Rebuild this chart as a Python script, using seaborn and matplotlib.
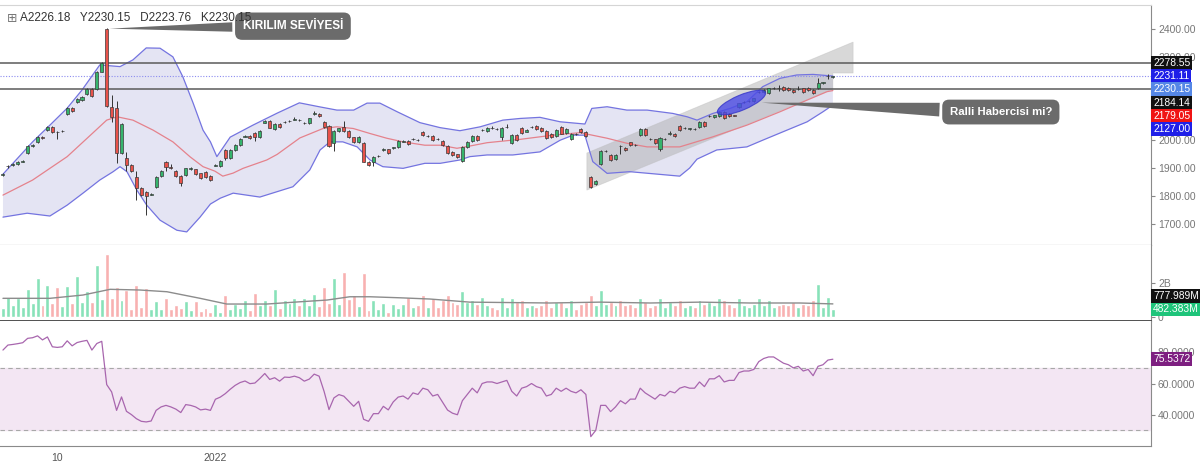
import matplotlib
matplotlib.use("Agg")
import matplotlib.pyplot as plt
import matplotlib.transforms as mtransforms
from matplotlib.patches import Polygon, Ellipse
import numpy as np
import seaborn as sns

# ---- candles (index = bar number) ----
opens = [
    1877, 1907, 1912, 1915, 1924, 1954, 1981, 1995, 2013, 2037,
    2049, 2031, 2033, 2095, 2117, 2137, 2145, 2167, 2184, 2184,
    2247, 2399, 2121, 2115, 1954, 1936, 1912, 1870, 1830, 1816,
    1806, 1834, 1872, 1922, 1904, 1891, 1872, 1876, 1899, 1896,
    1882, 1886, 1872, 1910, 1908, 1965, 1936, 1965, 1983, 2014,
    2016, 2027, 2013, 2064, 2070, 2041, 2058, 2066, 2069, 2075,
    2073, 2062, 2061, 2096, 2095, 2067, 2052, 1990, 2034, 2049,
    2034, 2011, 1994, 1992, 1924, 1924, 1944, 1967, 1968, 1974,
    1977, 1996, 1997, 2004, 2001, 2031, 2015, 2016, 2006, 1998,
    1980, 1959, 1950, 1927, 1975, 1999, 2017, 2036, 2035, 2045,
    2041, 2011, 2048, 1990, 2019, 2046, 2032, 2048, 2052, 2045,
    2034, 2023, 2016, 2049, 2027, 2004, 2023, 2042, 2030, 1870,
    1843, 1915, 1962, 1948, 1933, 1981, 1972, 1993, 1983, 2019,
    2040, 2005, 2004, 1968, 2004, 2024, 2025, 2052, 2044, 2042,
    2041, 2049, 2067, 2087, 2085, 2088, 2101, 2094, 2090, 2121,
    2138, 2141, 2142, 2174, 2173, 2171, 2188, 2189, 2191, 2189,
    2181, 2185, 2187, 2189, 2182, 2187, 2207, 2230, 2226.18,
]
highs = [
    1884, 1913, 1918, 1926, 1930, 1984, 1988, 2016, 2016, 2052,
    2052, 2034, 2038, 2120, 2120, 2152, 2160, 2187, 2187, 2250,
    2283, 2402, 2163, 2140, 2062, 1958, 1915, 1890, 1833, 1820,
    1812, 1873, 1894, 1925, 1915, 1894, 1875, 1903, 1906, 1899,
    1885, 1889, 1875, 1915, 1929, 1970, 1968, 1986, 2008, 2019,
    2019, 2030, 2038, 2073, 2073, 2062, 2061, 2070, 2073, 2085,
    2076, 2066, 2082, 2104, 2098, 2070, 2055, 2037, 2046, 2070,
    2037, 2014, 2016, 1995, 1927, 1945, 1949, 1972, 1971, 1978,
    2001, 2000, 2000, 2008, 2004, 2034, 2019, 2019, 2009, 2001,
    1983, 1962, 1953, 1980, 1998, 2020, 2020, 2040, 2049, 2052,
    2044, 2049, 2058, 2022, 2022, 2049, 2041, 2052, 2055, 2048,
    2037, 2026, 2040, 2052, 2043, 2028, 2026, 2045, 2033, 1873,
    1857, 1966, 1966, 1951, 1951, 1984, 1975, 1996, 1986, 2043,
    2043, 2009, 2007, 2011, 2008, 2035, 2028, 2055, 2048, 2046,
    2044, 2070, 2070, 2091, 2093, 2106, 2104, 2097, 2093, 2136,
    2142, 2145, 2154, 2178, 2183, 2190, 2192, 2200, 2194, 2192,
    2184, 2194, 2190, 2192, 2185, 2225, 2211, 2238, 2230.15,
]
lows = [
    1872, 1903, 1909, 1913, 1921, 1950, 1978, 1992, 2006, 2034,
    2028, 2004, 2031, 2092, 2102, 2134, 2142, 2164, 2157, 2180,
    2244, 2120, 2068, 1919, 1950, 1890, 1887, 1786, 1800, 1732,
    1803, 1831, 1869, 1890, 1899, 1869, 1835, 1873, 1895, 1876,
    1861, 1865, 1854, 1907, 1905, 1930, 1933, 1962, 1980, 2011,
    2007, 1997, 2010, 2061, 2043, 2038, 2046, 2063, 2066, 2072,
    2069, 2059, 2058, 2093, 2085, 2046, 1977, 1963, 2031, 2031,
    2010, 1991, 1991, 1921, 1909, 1910, 1941, 1964, 1951, 1971,
    1974, 1993, 1983, 2001, 1997, 2016, 2012, 1999, 2002, 1980,
    1953, 1944, 1938, 1924, 1972, 1996, 1999, 2033, 2032, 2041,
    2037, 2000, 2045, 1987, 1999, 2025, 2029, 2045, 2039, 2032,
    2005, 2008, 2013, 2022, 2024, 2001, 2019, 2027, 2013, 1828,
    1840, 1912, 1959, 1927, 1930, 1950, 1963, 1979, 1979, 2016,
    2016, 2001, 1987, 1962, 2001, 2021, 2012, 2034, 2041, 2039,
    2037, 2046, 2049, 2084, 2082, 2085, 2078, 2083, 2086, 2118,
    2135, 2138, 2139, 2171, 2170, 2168, 2185, 2178, 2179, 2177,
    2170, 2182, 2172, 2177, 2168, 2184, 2204, 2222, 2223.76,
]
closes = [
    1880, 1909, 1914, 1923, 1926, 1981, 1983, 2013, 2010, 2049,
    2031, 2029, 2035, 2117, 2105, 2149, 2157, 2184, 2160, 2247,
    2279, 2123, 2085, 1954, 2058, 1912, 1891, 1830, 1804, 1800,
    1808, 1870, 1891, 1906, 1902, 1872, 1846, 1900, 1901, 1879,
    1864, 1868, 1858, 1912, 1926, 1936, 1965, 1983, 2005, 2016,
    2010, 2013, 2035, 2070, 2046, 2059, 2049, 2067, 2070, 2076,
    2072, 2063, 2079, 2097, 2088, 2049, 1980, 2034, 2043, 2034,
    2013, 1994, 2013, 1924, 1912, 1942, 1945, 1968, 1954, 1975,
    1998, 1997, 1986, 2005, 2000, 2019, 2016, 2002, 2005, 1983,
    1956, 1947, 1941, 1977, 1995, 2017, 2002, 2037, 2046, 2044,
    2040, 2046, 2049, 2019, 2002, 2028, 2038, 2049, 2042, 2035,
    2008, 2011, 2037, 2025, 2040, 2025, 2022, 2030, 2016, 1834,
    1854, 1963, 1963, 1930, 1948, 1979, 1966, 1982, 1982, 2040,
    2019, 2004, 1990, 2008, 2005, 2025, 2015, 2037, 2045, 2043,
    2040, 2067, 2052, 2088, 2090, 2103, 2081, 2086, 2089, 2133,
    2139, 2142, 2151, 2175, 2180, 2187, 2189, 2188, 2182, 2180,
    2173, 2186, 2175, 2180, 2171, 2205, 2208, 2231, 2230.15,
]

# ---- volume, billions ----
volumes = [
    0.56, 1.19, 0.71, 1.14, 0.62, 1.64, 0.81, 2.25, 0.71, 1.87,
    0.81, 1.77, 0.66, 1.83, 0.81, 2.41, 0.91, 1.54, 0.87, 3.02,
    1.06, 3.64, 1.10, 1.77, 1.00, 1.58, 0.46, 1.87, 0.58, 1.68,
    0.46, 0.94, 0.48, 1.14, 0.48, 0.71, 0.56, 0.94, 0.42, 0.94,
    0.39, 0.52, 0.33, 0.75, 0.29, 1.29, 0.48, 0.75, 0.56, 1.00,
    0.42, 1.39, 0.71, 1.00, 0.71, 1.62, 0.56, 1.00, 0.81, 1.14,
    0.71, 1.14, 0.71, 1.33, 0.66, 1.73, 0.81, 2.25, 0.75, 2.64,
    1.06, 1.29, 0.67, 2.54, 0.42, 1.00, 0.46, 0.81, 0.33, 0.77,
    0.52, 0.80, 1.20, 0.60, 0.70, 1.30, 0.60, 1.10, 0.60, 1.00,
    1.30, 0.90, 0.80, 1.50, 0.90, 1.00, 0.80, 1.20, 0.70, 0.60,
    0.50, 1.20, 0.60, 1.10, 0.90, 1.00, 0.60, 0.70, 0.60, 0.70,
    1.00, 0.60, 0.90, 0.90, 0.60, 1.00, 0.50, 0.80, 0.90, 1.30,
    0.70, 1.60, 0.80, 0.90, 0.70, 1.00, 0.70, 0.80, 0.60, 1.10,
    0.90, 0.60, 0.70, 1.10, 0.60, 0.90, 0.70, 1.00, 0.60, 0.70,
    0.60, 1.00, 0.80, 0.90, 0.70, 1.10, 1.00, 0.80, 0.60, 1.10,
    0.70, 0.60, 0.80, 1.10, 0.70, 1.00, 0.60, 0.70, 0.80, 0.70,
    0.90, 0.60, 0.80, 0.70, 1.00, 1.90, 0.60, 1.20, 0.482,
]
vol_ma_idx = [0, 9.5, 16.2, 21.7, 27.7, 33.2, 39.9, 45.3, 53.4, 60.1, 65.6, 70.2,
              74.3, 80.4, 86.4, 94.5, 110.7, 120.9, 131, 141.1, 151.2, 161.3, 168]
vol_ma = [1.10, 1.10, 1.29, 1.62, 1.58, 1.48, 1.10, 0.77, 0.77, 0.90, 1.00, 1.19,
          1.19, 1.13, 1.06, 0.88, 0.83, 0.88, 0.83, 0.88, 0.83, 0.83, 0.778]

# ---- RSI, one value per bar ----
rsi = [
    81.4, 84.6, 85.0, 85.5, 86.1, 88.9, 89.3, 90.5, 87.9, 89.8,
    83.5, 83.1, 83.5, 87.3, 84.1, 86.2, 87.0, 87.6, 81.4, 85.6,
    87.0, 59.3, 54.6, 42.8, 51.4, 42.2, 40.1, 37.5, 35.8, 35.4,
    36.0, 42.8, 45.0, 46.0, 45.0, 43.6, 41.4, 46.5, 46.0, 45.0,
    43.1, 43.6, 42.8, 49.9, 51.3, 53.5, 56.3, 58.8, 60.6, 61.6,
    59.9, 60.3, 63.2, 66.4, 62.6, 63.7, 61.5, 64.1, 63.9, 64.7,
    63.7, 61.5, 62.8, 66.0, 64.7, 55.0, 43.3, 50.8, 52.9, 51.9,
    48.6, 45.4, 48.6, 37.1, 35.8, 40.7, 40.7, 45.4, 43.1, 48.2,
    51.3, 52.0, 50.0, 54.0, 53.0, 57.0, 56.0, 52.0, 53.0, 48.0,
    43.0, 41.0, 40.0, 49.0, 53.0, 57.0, 54.0, 60.0, 61.0, 61.0,
    60.0, 61.0, 62.0, 55.0, 52.0, 57.0, 58.0, 60.0, 58.0, 57.0,
    52.0, 53.0, 57.0, 55.0, 57.0, 55.0, 54.0, 56.0, 53.0, 26.0,
    30.0, 46.0, 46.0, 42.0, 45.0, 49.0, 47.0, 50.0, 50.0, 57.0,
    54.0, 52.0, 50.0, 53.0, 52.0, 55.0, 54.0, 57.0, 58.0, 57.0,
    57.0, 61.0, 58.0, 63.0, 63.0, 65.0, 61.0, 62.0, 62.0, 67.0,
    68.0, 68.0, 69.0, 74.0, 76.0, 77.0, 77.0, 75.0, 73.0, 72.0,
    70.0, 71.0, 68.0, 69.0, 65.0, 71.0, 72.0, 75.0, 75.54,
]

# ---- Bollinger bands (sampled along the bars) ----
bb_up_idx = [0, 6, 9.5, 13, 16, 19.6, 23.7, 26.3, 29, 31.8, 34.4, 36.4, 38.5, 40.5, 42,
             43.3, 46, 50.6, 55.5, 60, 64, 67.6, 71, 73.7, 76.3, 79.8, 84.4, 88.5, 92.5,
             96.6, 101.2, 104.7, 108.7, 112.8, 117.8, 119.2, 122.3, 126.3, 130.4, 135.6,
             138.5, 140.5, 143.7, 147.2, 150.6, 153.8, 157.3, 160.7, 164, 168]
bb_up = [1879, 1995, 2055, 2116, 2181, 2271, 2265, 2289, 2332, 2331, 2300, 2229, 2134,
         2037, 1995, 1942, 2012, 2055, 2098, 2135, 2121, 2109, 2109, 2134, 2134, 2103,
         2064, 2046, 2035, 2049, 2073, 2079, 2083, 2067, 2059, 2115, 2121, 2109, 2109,
         2097, 2085, 2073, 2097, 2115, 2139, 2193, 2223, 2235, 2237, 2231.11]
bb_lo_idx = [0, 4.9, 9.5, 13, 16.2, 19.6, 22.3, 23.7, 25.1, 27.1, 29.1, 31.8, 35.2, 37.2,
             39.9, 42, 44, 46.6, 52, 58.7, 62.1, 64.2, 66.2, 68.8, 71.7, 74.3, 76.9, 81,
             85.4, 88.5, 92.5, 94.5, 98, 103.2, 108.7, 112.8, 115.4, 117.8, 119.4, 122.3,
             126.9, 137, 139, 140.5, 144.5, 150.6, 153.8, 158.7, 162.8, 166, 168]
bb_lo = [1725, 1739, 1729, 1768, 1811, 1858, 1888, 1906, 1888, 1822, 1768, 1714, 1678,
         1672, 1725, 1772, 1793, 1811, 1797, 1834, 1894, 1966, 1995, 1995, 1977, 1930,
         1906, 1900, 1918, 1918, 1930, 1942, 1948, 1948, 1959, 2001, 2019, 2019, 1924,
         1882, 1888, 1872, 1901, 1933, 1966, 1977, 2001, 2037, 2067, 2103, 2127.00]
bb_mid_idx = [0, 6, 13, 18.2, 21, 23.1, 26.3, 30.4, 34.4, 37.9, 40.5, 42.9, 44.5, 46.6,
              48.6, 53.4, 55.5, 60.1, 64.8, 67.6, 70.9, 74.3, 77.7, 81, 85.4, 88.5, 91.9,
              94.5, 98, 104.7, 111.3, 116.8, 118.2, 122.3, 126.3, 130.4, 137, 143.7,
              150.6, 157.3, 162.8, 166.8, 168]
bb_mid = [1804, 1858, 1942, 2027, 2073, 2085, 2073, 2037, 1995, 1941, 1906, 1890, 1872,
          1883, 1900, 1930, 1950, 2009, 2043, 2049, 2043, 2025, 2008, 1995, 1983, 1983,
          1972, 1980, 1992, 2004, 2019, 2028, 2023, 2008, 1990, 1977, 1977, 2013, 2055,
          2103, 2145, 2175, 2179.05]

# ---- drawings ----
level_lines = [2278.55, 2184.14]
dotted_level = 2231.11
channel_idx = [118.2, 172.1, 172.1, 168.0, 168.0, 118.2]
channel_px = [1955, 2353, 2242, 2242, 2184, 1822]

x_tick_pos = [11, 25, 43, 57, 71, 85, 99, 112, 125, 139, 153, 173, 188, 203, 218]
x_tick_lab = ["10", "", "2022", "", "", "", "", "", "", "", "", "", "", "", ""]

GREEN = "#35b46c"
RED = "#e8524a"

sns.set_style("white")
plt.rcParams["font.family"] = ["Liberation Sans", "DejaVu Sans"]

idx = np.arange(len(closes))
o = np.array(opens, dtype=float)
c = np.array(closes, dtype=float)
up = c >= o

fig = plt.figure(figsize=(12, 4.61), dpi=100)
W = 1151 / 1200
ax1 = fig.add_axes([0, 1 - 245 / 461, W, 240 / 461])
ax2 = fig.add_axes([0, 1 - 321 / 461, W, 76 / 461], sharex=ax1)
ax3 = fig.add_axes([0, 1 - 446 / 461, W, 125 / 461], sharex=ax1)

# price panel
bb_poly = list(zip(bb_up_idx, bb_up)) + list(zip(bb_lo_idx, bb_lo))[::-1]
ax1.add_patch(Polygon(bb_poly, closed=True, fc="#e4e4f3", ec="none", zorder=1))
ax1.add_patch(Polygon(list(zip(channel_idx, channel_px)), closed=True,
                      fc="#a9a9a9", ec="#bdbdbd", lw=0.6, alpha=0.45, zorder=1.5))
sns.lineplot(x=bb_up_idx, y=bb_up, ax=ax1, color="#7474e0", lw=0.9, zorder=2)
sns.lineplot(x=bb_lo_idx, y=bb_lo, ax=ax1, color="#7474e0", lw=0.9, zorder=2)
sns.lineplot(x=bb_mid_idx, y=bb_mid, ax=ax1, color="#e4828c", lw=0.9, zorder=2)

for lv in level_lines:
    ax1.axhline(lv, color="#5a5a5a", lw=1.1, zorder=2)
ax1.axhline(dotted_level, color="#8c8cf0", lw=0.8, ls=(0, (1, 1.5)), zorder=2)

ax1.vlines(idx, lows, highs, color="#333333", lw=0.7, zorder=3)
body = np.maximum(np.abs(c - o), 1.2)
ax1.bar(idx, body, bottom=np.minimum(o, c), width=0.62,
        color=np.where(up, GREEN, RED), edgecolor="#3a3a3a", lw=0.5, zorder=4)

cx, cy = 149.5, 2136
ell = Ellipse((0, 0), width=52, height=15, angle=23, fc="#4b4be6", ec="#3535c8",
              lw=0.8, alpha=0.8, zorder=5,
              transform=mtransforms.ScaledTranslation(cx, cy, ax1.transData))
ax1.add_patch(ell)

ax1.annotate("KIRILIM SEVİYESİ", xy=(21, 2401), xytext=(58.7, 2410),
             ha="center", va="center", fontsize=8.5, fontweight="bold", color="white",
             bbox=dict(boxstyle="round,pad=0.65,rounding_size=0.6", fc="#6b6b6b", ec="none"),
             zorder=8, annotation_clip=False,
             arrowprops=dict(arrowstyle="wedge,tail_width=0.8,shrink_factor=0.5",
                             fc="#6b6b6b", ec="none"))
ax1.annotate("Ralli Habercisi mi?", xy=(153, 2136), xytext=(202, 2102),
             ha="center", va="center", fontsize=8.2, fontweight="bold", color="white",
             bbox=dict(boxstyle="round,pad=0.65,rounding_size=0.6", fc="#6b6b6b", ec="none"),
             zorder=8,
             arrowprops=dict(arrowstyle="wedge,tail_width=1.2,shrink_factor=0.5",
                             fc="#6b6b6b", ec="none"))

ax1.set_ylim(1625, 2486)
ax1.set_yticks(np.arange(1700, 2401, 100))
ax1.set_yticklabels(["1700.00", "1800.00", "1900.00", "2000.00", "", "", "2300.00", "2400.00"])

# volume panel
ax2.bar(idx, volumes, width=0.8, color=np.where(up, "#88e2b9", "#f8b1b1"), zorder=2)
sns.lineplot(x=vol_ma_idx, y=vol_ma, ax=ax2, color="#8c8c8c", lw=1.0, zorder=3)
ax2.set_ylim(-0.21, 4.18)
ax2.set_yticks([0, 2])
ax2.set_yticklabels(["0", "2B"])

# RSI panel
ax3.axhspan(30, 70, color="#f3e6f3", zorder=0)
for lv in (30, 70):
    ax3.axhline(lv, color="#a8a8a8", lw=0.8, ls=(0, (4, 3)), zorder=1)
sns.lineplot(x=idx, y=rsi, ax=ax3, color="#a866ae", lw=0.9, zorder=2)
ax3.set_ylim(20, 100)
ax3.set_yticks([40, 60, 80])
ax3.yaxis.set_major_formatter(plt.FormatStrFormatter("%.4f"))

ax1.set_xlim(-0.6, 232.4)
ax3.set_xticks(x_tick_pos)
ax3.set_xticklabels(x_tick_lab)

for ax in (ax1, ax2, ax3):
    ax.set_xlabel("")
    ax.set_ylabel("")
    ax.yaxis.tick_right()
    ax.tick_params(axis="y", length=3, color="#888888", labelsize=7.5, labelcolor="#777777", pad=2)
    ax.spines["left"].set_visible(False)
    ax.spines["right"].set_color("#8a8a8a")
    ax.spines["top"].set_visible(False)
    ax.set_facecolor("white")
for ax in (ax1, ax2):
    ax.tick_params(axis="x", bottom=False, labelbottom=False)
ax3.tick_params(axis="x", length=3, color="#888888", labelsize=7.5, labelcolor="#555555", pad=2)
ax1.spines["top"].set_visible(True)
ax1.spines["top"].set_color("#d5d5d5")
ax1.spines["bottom"].set_color("#666666")
ax2.spines["bottom"].set_color("#222222")
ax2.spines["bottom"].set_linewidth(1.1)
ax3.spines["bottom"].set_color("#8a8a8a")


def side_label(ax, y, text, color):
    tr = mtransforms.blended_transform_factory(ax.transAxes, ax.transData)
    ax.text(1.0018, y, text, transform=tr, ha="left", va="center", fontsize=7.4,
            color="white", clip_on=False, zorder=10,
            bbox=dict(boxstyle="square,pad=0.2", fc=color, ec="none"))


price_tags = [(2278.55, "#111111"), (2231.11, "#1f1fe8"), (2230.15, "#5587e6"),
              (2184.14, "#111111"), (2179.05, "#f01414"), (2127.00, "#1f1fe8")]
prev = None
for val, col in price_tags:
    y = val if prev is None else min(val, prev - 47.7)
    side_label(ax1, y, f"{val:.2f}", col)
    prev = y

vol_tags = [(0.482383, "482.383M", "#1ec47a"), (0.777989, "777.989M", "#111111")]
prev = None
for val, txt, col in vol_tags:
    y = val if prev is None else max(val, prev + 0.75)
    side_label(ax2, y, txt, col)
    prev = y

side_label(ax3, 75.5372, "75.5372", "#7d1f80")

fig.text(7 / 1200, 1 - 18 / 461, "⊞", fontsize=9, color="#777777", va="center",
         family=["DejaVu Sans"])
fig.text(20 / 1200, 1 - 18 / 461, "A2226.18   Y2230.15   D2223.76   K2230.15",
         fontsize=8.5, color="#333333", va="center")

fig.savefig("out.png", dpi=100, facecolor="white")
